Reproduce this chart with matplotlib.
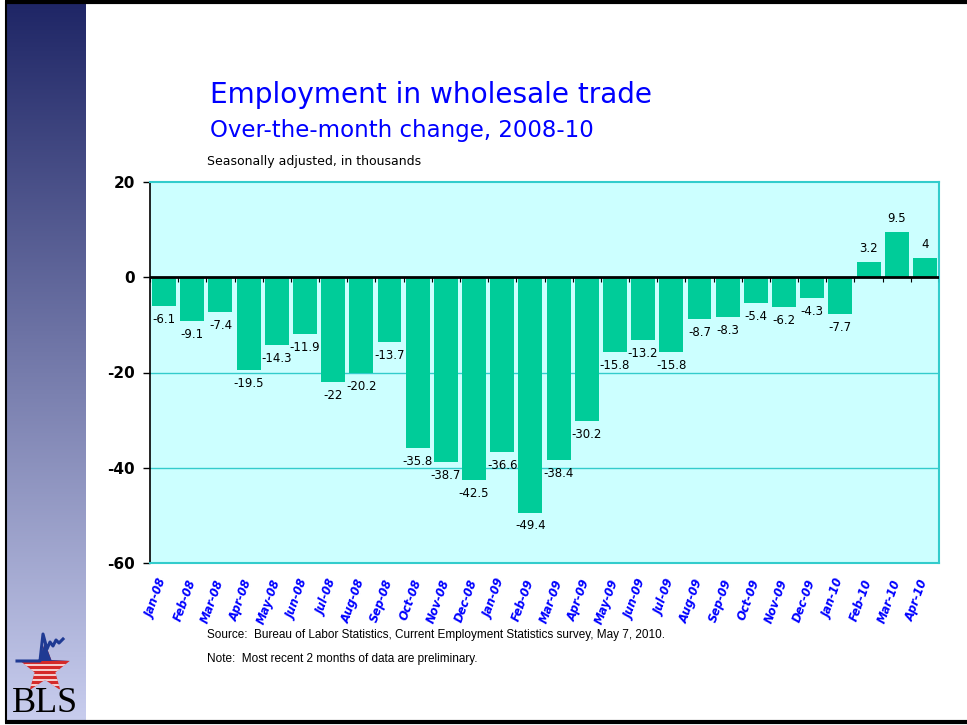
import numpy as np
import matplotlib.pyplot as plt
from matplotlib.patches import Polygon

# Data
months = ["Jan-08", "Feb-08", "Mar-08", "Apr-08", "May-08", "Jun-08", "Jul-08",
          "Aug-08", "Sep-08", "Oct-08", "Nov-08", "Dec-08", "Jan-09", "Feb-09",
          "Mar-09", "Apr-09", "May-09", "Jun-09", "Jul-09", "Aug-09", "Sep-09",
          "Oct-09", "Nov-09", "Dec-09", "Jan-10", "Feb-10", "Mar-10", "Apr-10"]
change = [-6.1, -9.1, -7.4, -19.5, -14.3, -11.9, -22, -20.2, -13.7, -35.8,
          -38.7, -42.5, -36.6, -49.4, -38.4, -30.2, -15.8, -13.2, -15.8, -8.7,
          -8.3, -5.4, -6.2, -4.3, -7.7, 3.2, 9.5, 4]
yticks = [20, 0, -20, -40, -60]

W, H = 967, 725
fig = plt.figure(figsize=(W / 100, H / 100), dpi=100)

# Background slide decoration in pixel coordinates
bg = fig.add_axes([0, 0, 1, 1], zorder=-1)
bg.set_xlim(0, W)
bg.set_ylim(H, 0)
bg.axis("off")
top_c = np.array([31, 38, 102]) / 255
bot_c = np.array([200, 205, 238]) / 255
t = np.linspace(0, 1, 256)[:, None]
grad = (top_c * (1 - t) + bot_c * t)[:, None, :]
bg.imshow(grad, extent=[7, 86, 722, 3], aspect="auto", zorder=0)
bg.plot([5, W], [2, 2], color="black", lw=3, solid_capstyle="butt")
bg.plot([5, W], [722, 722], color="black", lw=3, solid_capstyle="butt")
bg.plot([6, 6], [2, 722], color="black", lw=1.5)

# BLS logo (rough)
cx, cy, r = 45, 669, 26
ang = np.pi / 2 + np.arange(10) * np.pi / 5
rad = np.where(np.arange(10) % 2 == 0, r, r * 0.42)
pts = np.column_stack([cx + rad * np.cos(ang), cy - rad * np.sin(ang)])
star = Polygon(pts, closed=True, facecolor="#d42a2a", edgecolor="none", zorder=2)
bg.add_patch(star)
for yy in np.arange(cy - 4, cy + 26, 5):
    ln, = bg.plot([cx - r, cx + r], [yy, yy], color="white", lw=1.1, zorder=3)
    ln.set_clip_path(star)
top_part = bg.fill_between([cx - r, cx + r], cy - r - 2, cy - 8,
                           color="#1f3a93", lw=0, zorder=3)
top_part.set_clip_path(star)
bg.plot([17, 40, 43, 47, 50, 53, 56, 59, 63],
        [661, 661, 634, 649, 642, 646, 640, 643, 639],
        color="#1f3a93", lw=2.2, zorder=4)
bg.text(45, 704, "BLS", family="Liberation Serif", fontsize=26,
        ha="center", va="center", color="black")

# Titles
bg.text(210, 95, "Employment in wholesale trade", fontsize=20.2, color="#0000ff",
        va="center", ha="left")
bg.text(210, 130, "Over-the-month change, 2008-10", fontsize=16.5, color="#0000ff",
        va="center", ha="left")
bg.text(207, 161, "Seasonally adjusted, in thousands", fontsize=9, color="black",
        va="center", ha="left")
bg.text(207, 635, "Source:  Bureau of Labor Statistics, Current Employment Statistics survey, May 7, 2010.",
        family="Liberation Sans", fontsize=8.5, va="center", ha="left")
bg.text(207, 659, "Note:  Most recent 2 months of data are preliminary.",
        family="Liberation Sans", fontsize=8.5, va="center", ha="left")

# Main chart
ax = fig.add_axes([150 / W, 1 - 563 / H, (939 - 150) / W, (563 - 182) / H])
ax.set_facecolor("#ccffff")
x = np.arange(len(months))
ax.bar(x, change, width=0.85, color="#00cc99", zorder=3)
ax.set_xlim(-0.5, len(months) - 0.5)
ax.set_ylim(-60, 20)
ax.set_yticks(yticks)
ax.set_yticklabels([str(v) for v in yticks], fontweight="bold", fontsize=11)
ax.tick_params(axis="y", direction="out", length=5, width=1, pad=6)
for v in yticks[2:4]:
    ax.axhline(v, color="#33cccc", lw=1, zorder=1)
ax.axhline(0, color="black", lw=2, zorder=4)
ax.vlines(np.arange(len(months) + 1) - 0.5, -0.9, 0, color="black", lw=0.8, zorder=4)

ax.set_xticks(x)
ax.set_xticklabels(months, rotation=70, ha="right", va="center",
                   rotation_mode="anchor", color="#0000ff", fontweight="bold",
                   fontstyle="italic", fontsize=8.3)
ax.tick_params(axis="x", length=0, pad=12)

for s in ["top", "right", "bottom"]:
    ax.spines[s].set_color("#33cccc")
    ax.spines[s].set_linewidth(1.5)
ax.spines["left"].set_color("black")
ax.spines["left"].set_linewidth(1.2)

for xi, v in zip(x, change):
    lab = f"{v:g}"
    if v < 0:
        ax.annotate(lab, (xi, v), xytext=(0, -5), textcoords="offset points",
                    ha="center", va="top", fontsize=8.5, zorder=5)
    else:
        ax.annotate(lab, (xi, v), xytext=(0, 5), textcoords="offset points",
                    ha="center", va="bottom", fontsize=8.5, zorder=5)

fig.savefig("out.png", dpi=100)
